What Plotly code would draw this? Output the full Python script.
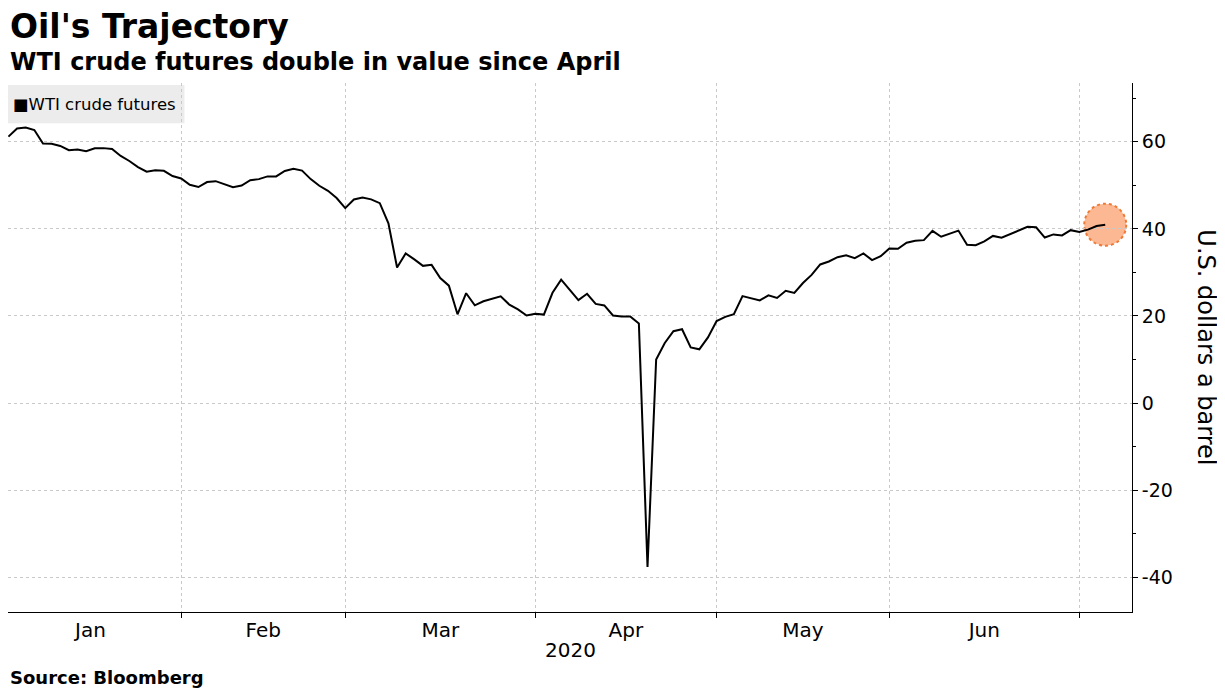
import plotly.graph_objects as go

# WTI crude futures, daily settles 2020 (trading days only)
months = ["Jan", "Feb", "Mar", "Apr", "May", "Jun", "Jul"]
trading_days = {
    "Jan": [2, 3, 6, 7, 8, 9, 10, 13, 14, 15, 16, 17, 21, 22, 23, 24, 27, 28, 29, 30, 31],
    "Feb": [3, 4, 5, 6, 7, 10, 11, 12, 13, 14, 18, 19, 20, 21, 24, 25, 26, 27, 28],
    "Mar": [2, 3, 4, 5, 6, 9, 10, 11, 12, 13, 16, 17, 18, 19, 20, 23, 24, 25, 26, 27, 30, 31],
    "Apr": [1, 2, 3, 6, 7, 8, 9, 13, 14, 15, 16, 17, 20, 21, 22, 23, 24, 27, 28, 29, 30],
    "May": [1, 4, 5, 6, 7, 8, 11, 12, 13, 14, 15, 18, 19, 20, 21, 22, 26, 27, 28, 29],
    "Jun": [1, 2, 3, 4, 5, 8, 9, 10, 11, 12, 15, 16, 17, 18, 19, 22, 23, 24, 25, 26, 29, 30],
    "Jul": [1, 2, 6],
}
wti = {
    "Jan": [61.18, 63.05, 63.27, 62.70, 59.61, 59.56, 59.04, 58.08, 58.23, 57.81, 58.52,
            58.54, 58.34, 56.74, 55.59, 54.19, 53.14, 53.48, 53.33, 52.14, 51.56],
    "Feb": [50.11, 49.61, 50.75, 50.95, 50.32, 49.57, 49.94, 51.17, 51.42, 52.05, 52.05,
            53.29, 53.78, 53.38, 51.43, 49.90, 48.73, 47.09, 44.76],
    "Mar": [46.75, 47.18, 46.78, 45.90, 41.28, 31.13, 34.36, 32.98, 31.50, 31.73, 28.70,
            26.95, 20.37, 25.22, 22.43, 23.36, 24.01, 24.49, 22.60, 21.51, 20.09, 20.48],
    "Apr": [20.31, 25.32, 28.34, 26.08, 23.63, 25.09, 22.76, 22.41, 20.11, 19.87, 19.87,
            18.27, -37.63, 10.01, 13.78, 16.50, 16.94, 12.78, 12.34, 15.06, 18.84],
    "May": [19.78, 20.39, 24.56, 23.99, 23.55, 24.74, 24.14, 25.78, 25.29, 27.56, 29.43,
            31.82, 32.50, 33.49, 33.92, 33.25, 34.35, 32.81, 33.71, 35.49],
    "Jun": [35.44, 36.81, 37.29, 37.41, 39.55, 38.19, 38.94, 39.60, 36.34, 36.26, 37.12,
            38.38, 37.96, 38.84, 39.75, 40.46, 40.37, 38.01, 38.72, 38.49, 39.70, 39.27],
    "Jul": [39.82, 40.65, 40.95],
}
y_ticks = [-40, -20, 0, 20, 40, 60]

dates, values = [], []
for m_i, m in enumerate(months):
    for d, v in zip(trading_days[m], wti[m]):
        dates.append(f"2020-{m_i + 1:02d}-{d:02d}")
        values.append(v)
idx = list(range(len(values)))

# month boundaries sit on the last trading day of each month
ends, start = [], 0
for m in months:
    start += len(trading_days[m])
    ends.append(start - 1)
boundaries = ends[:6]
label_pos = [(b0 + b1) / 2 for b0, b1 in zip([-1] + boundaries[:-1], boundaries)]

fig = go.Figure()
fig.add_trace(go.Scatter(
    x=idx, y=values, customdata=dates, mode='lines',
    line=dict(color='black', width=2),
    hovertemplate='%{customdata}: %{y:.2f}<extra></extra>',
    showlegend=False,
))

grid = '#c9c9c9'
# page body has an 8px margin, so the figure is 8px smaller than the window
fig.update_layout(
    width=1217, height=681,
    margin=dict(l=0, r=93, t=75, b=77),
    plot_bgcolor='white', paper_bgcolor='white',
    font=dict(family='DejaVu Sans', color='black'),
    xaxis=dict(
        range=[-0.05, 130.1], automargin=False,
        tickmode='array', tickvals=label_pos, ticktext=months[:6],
        ticks='', showgrid=False, zeroline=False,
        showline=True, linecolor='black', linewidth=1,
        tickfont=dict(size=20),
        minor=dict(tickmode='array', tickvals=boundaries, ticks='outside', ticklen=5,
                   tickcolor='black', showgrid=True, gridcolor=grid, griddash='dot', gridwidth=1),
    ),
    yaxis=dict(
        side='right', range=[-48, 73.5], automargin=False,
        tickmode='array', tickvals=y_ticks, ticktext=[str(v) for v in y_ticks],
        ticks='outside', ticklen=5, tickcolor='black',
        showline=True, linecolor='black', linewidth=1,
        showgrid=True, gridcolor=grid, griddash='dot', zeroline=False,
        tickfont=dict(size=19),
        minor=dict(dtick=10, tick0=0, ticks='outside', ticklen=3, tickcolor='black', showgrid=False),
    ),
)

# legend box
fig.add_shape(type='rect', xref='paper', yref='paper', x0=0, x1=0.157, y0=0.924, y1=0.996,
              fillcolor='#ececec', line=dict(width=0), layer='below')
fig.add_annotation(xref='paper', yref='paper', x=0.003, y=0.96, xanchor='left', yanchor='middle',
                   text='■WTI crude futures', showarrow=False, font=dict(size=16.5))

# highlight on the latest value, drawn under the line
fig.add_shape(type='circle', xref='x', yref='y', xsizemode='pixel', ysizemode='pixel',
              xanchor=idx[-1], yanchor=values[-1], x0=-21, x1=21, y0=-21, y1=21, layer='below',
              fillcolor='rgba(250,160,110,0.75)', line=dict(color='#ef7a35', width=2, dash='dot'))

fig.add_annotation(xref='paper', yref='paper', x=1.066, y=0.5, xanchor='center', yanchor='middle',
                   textangle=90, text='U.S. dollars a barrel', showarrow=False,
                   font=dict(size=24))
fig.add_annotation(xref='paper', yref='paper', x=0.5, y=-0.045, yanchor='top',
                   text='2020', showarrow=False, font=dict(size=20))

fig.add_annotation(xref='paper', yref='paper', x=0, y=1.107, xanchor='left', yanchor='middle',
                   text="<b>Oil's Trajectory</b>", showarrow=False, font=dict(size=33))
fig.add_annotation(xref='paper', yref='paper', x=0, y=1.040, xanchor='left', yanchor='middle',
                   text='<b>WTI crude futures double in value since April</b>', showarrow=False,
                   font=dict(size=24))
fig.add_annotation(xref='paper', yref='paper', x=0, y=-0.123, xanchor='left', yanchor='middle',
                   text='<b>Source: Bloomberg</b>', showarrow=False, font=dict(size=18))

fig.write_html("out.html")
